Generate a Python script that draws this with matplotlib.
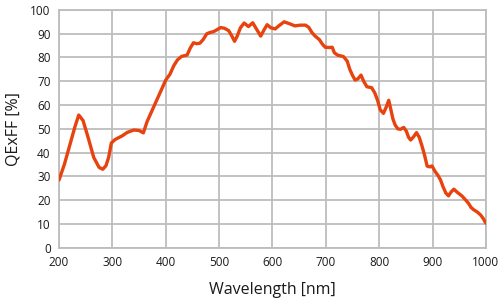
import matplotlib
matplotlib.use("Agg")
import matplotlib.pyplot as plt

# QE curve (wavelength in nm, QExFF in %)
wavelength = [200, 210, 220, 230, 237, 245, 255, 265, 275, 282, 288, 293, 298,
              305, 318, 328, 340, 350, 358, 365, 375, 385, 393, 400, 408, 415,
              422, 430, 440, 446, 452, 458, 464, 470, 477, 483, 490, 497, 503,
              510, 518, 524, 529, 534, 540, 547, 555, 563, 570, 578, 584, 590,
              597, 605, 613, 622, 632, 642, 652, 662, 668, 674, 680, 688, 694,
              699, 706, 712, 716, 722, 733, 740, 745, 750, 755, 760, 766, 771,
              777, 786, 792, 797, 802, 808, 813, 818, 822, 826, 830, 835, 840,
              846, 851, 855, 859, 864, 870, 875, 880, 885, 890, 895, 899, 905,
              910, 915, 920, 925, 930, 935, 940, 947, 955, 962, 968, 972, 977,
              984, 990, 995, 1000]
qe = [28.5, 35, 43, 51, 55.8, 53.5, 46, 38, 33.8, 33, 34.5, 38, 44,
      45.5, 47, 48.5, 49.5, 49.3, 48.3, 53, 58, 63, 67, 70.5, 73, 76.5,
      79, 80.5, 81, 84, 86.2, 85.8, 86, 87.5, 90, 90.5, 90.9, 91.8, 92.6,
      92.3, 91.3, 89, 86.8, 89, 92.5, 94.5, 93, 94.6, 92, 89, 91.5, 93.8,
      92.5, 92, 93.5, 95, 94.2, 93.3, 93.6, 93.6, 92.7, 90.5, 89, 87.5, 85.5,
      84.3, 84.2, 84.3, 82, 81, 80.4, 78.5, 75, 72.5, 70.5, 71, 72.6, 70,
      67.7, 67.3, 65, 62, 58, 56.5, 59, 62, 58, 54, 51.6, 50, 49.8,
      50.6, 49, 46.5, 45.3, 46.5, 48.4, 46.5, 43, 39, 34.3, 34, 34.4, 32,
      30.5, 28.5, 25.5, 23, 21.8, 23.5, 24.6, 23.2, 21.8, 20.1, 18.5, 17, 16,
      15, 13.8, 12.3, 10.3]

x_ticks = list(range(200, 1001, 100))
y_ticks = list(range(0, 101, 10))

LINE_COLOR = "#E8420E"
GRID_COLOR = "#BDBDBD"
TEXT_COLOR = "#1A1A1A"

plt.rcParams["font.family"] = ["Open Sans", "DejaVu Sans"]

fig = plt.figure(figsize=(5.01, 3.01), dpi=100)
ax = fig.add_axes([0.1178, 0.177, 0.852, 0.790])

ax.plot(wavelength, qe, color=LINE_COLOR, lw=2.4,
        solid_joinstyle="round", solid_capstyle="round", zorder=3)

ax.set_xlim(200, 1000)
ax.set_ylim(0, 100)
ax.set_xticks(x_ticks)
ax.set_yticks(y_ticks)
ax.grid(True, color=GRID_COLOR, lw=1.3)
ax.set_axisbelow(True)
for s in ax.spines.values():
    s.set_color(GRID_COLOR)
    s.set_linewidth(1.3)
ax.tick_params(length=0, labelsize=8.5, colors=TEXT_COLOR, pad=6)

ax.set_xlabel("Wavelength [nm]", fontsize=11.5, color=TEXT_COLOR, labelpad=9)
ax.set_ylabel("QExFF [%]", fontsize=11.5, color=TEXT_COLOR, labelpad=6)

fig.savefig("out.png", dpi=100)
